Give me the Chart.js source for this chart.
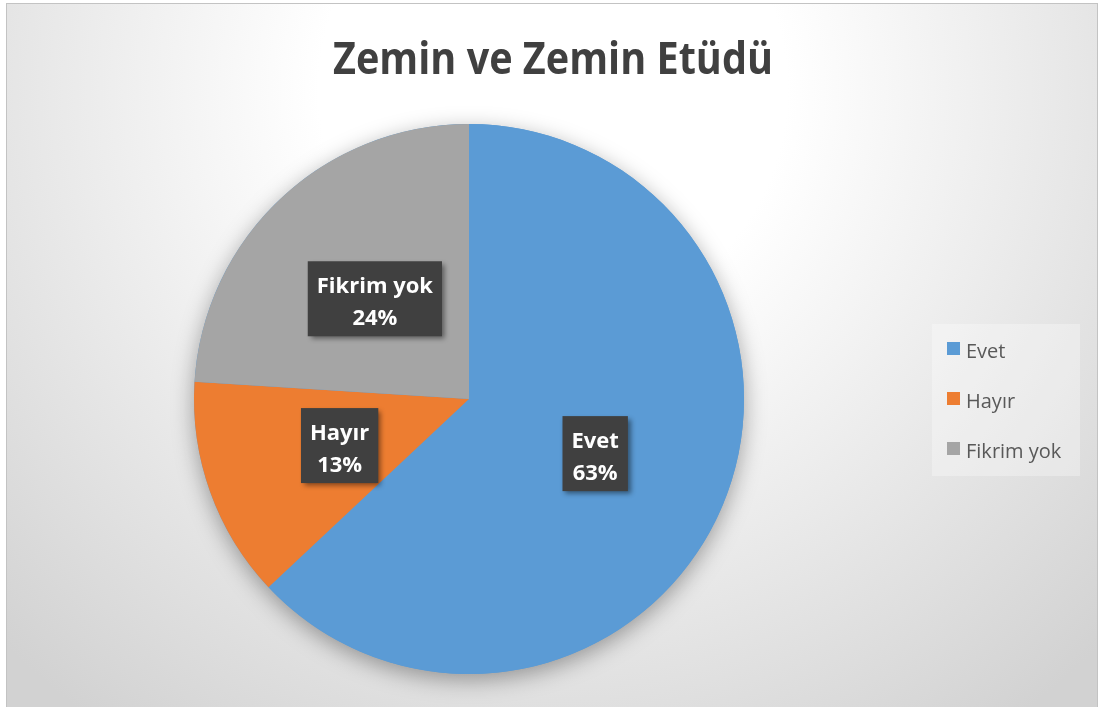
<!DOCTYPE html>
<html>
<head>
<meta charset="utf-8">
<script src="https://cdn.jsdelivr.net/npm/chart.js@4"></script>
<style>
  html, body { margin: 0; padding: 0; background: #fff; }
  #wrap { width: 1103px; height: 707px; }
</style>
</head>
<body>
<div id="wrap"><canvas id="myChart" width="1103" height="707"></canvas></div>
<script>
const title = 'Zemin ve Zemin Etüdü';
const categories = ['Evet', 'Hayır', 'Fikrim yok'];
const percents = [63, 13, 24];
const colors = ['#5B9BD5', '#ED7D31', '#A5A5A5'];

// background, frame and pie shadow
const backdrop = {
  id: 'backdrop',
  beforeDraw(chart) {
    const c = chart.ctx;
    c.save();
    c.fillStyle = '#fff';
    c.fillRect(0, 0, chart.width, chart.height);
    const g = c.createRadialGradient(553, 90, 0, 553, 90, 780);
    g.addColorStop(0, '#ffffff');
    g.addColorStop(0.3, '#ffffff');
    g.addColorStop(1, '#d2d2d2');
    c.fillStyle = g;
    c.fillRect(7, 4, 1090, 710);
    c.strokeStyle = '#c3c3c3';
    c.lineWidth = 1;
    c.strokeRect(6.5, 3.5, 1091, 720);

    c.fillStyle = '#404040';
    c.font = 'bold 45px "Open Sans"';
    c.textAlign = 'center';
    c.textBaseline = 'alphabetic';
    c.fillText(title, 553, 74, 440);
    c.restore();
  },
  beforeDatasetsDraw(chart) {
    const arc = chart.getDatasetMeta(0).data[0];
    const c = chart.ctx;
    c.save();
    c.shadowColor = 'rgba(0,0,0,0.35)';
    c.shadowBlur = 22;
    c.shadowOffsetY = 6;
    c.fillStyle = '#5B9BD5';
    c.beginPath();
    c.arc(arc.x, arc.y, arc.outerRadius, 0, Math.PI * 2);
    c.fill();
    c.restore();
  },
  afterDraw(chart) {
    const c = chart.ctx;
    const meta = chart.getDatasetMeta(0);
    c.save();
    // data labels
    meta.data.forEach((el, i) => {
      const p = el.getCenterPoint();
      c.font = 'bold 22px "Open Sans"';
      const l1 = categories[i], l2 = percents[i] + '%';
      const w = Math.max(c.measureText(l1).width, c.measureText(l2).width) + 18;
      const h = 75;
      c.save();
      c.shadowColor = 'rgba(0,0,0,0.45)';
      c.shadowBlur = 5;
      c.shadowOffsetX = 3;
      c.shadowOffsetY = 3;
      c.fillStyle = '#404040';
      c.fillRect(p.x - w / 2, p.y - h / 2, w, h);
      c.restore();
      c.fillStyle = '#ffffff';
      c.textAlign = 'center';
      c.textBaseline = 'alphabetic';
      c.fillText(l1, p.x, p.y - 6);
      c.fillText(l2, p.x, p.y + 26);
    });
    // legend
    c.fillStyle = 'rgba(255,255,255,0.3)';
    c.fillRect(932, 324, 148, 152);
    c.font = '20px "Open Sans"';
    c.textAlign = 'left';
    categories.forEach((name, i) => {
      const y = 342 + i * 50;
      c.fillStyle = colors[i];
      c.fillRect(947, y, 13, 13);
      c.fillStyle = '#595959';
      c.fillText(name, 966, y + 16);
    });
    c.restore();
  }
};

const ctx = document.getElementById('myChart');

new Chart(ctx, {
  type: 'pie',
  data: {
    labels: categories,
    datasets: [{
      data: percents,
      backgroundColor: colors,
      borderWidth: 0,
      hoverOffset: 0
    }]
  },
  options: {
    responsive: false,
    animation: false,
    events: [],
    layout: { padding: { left: 194, top: 124, right: 359, bottom: 33 } },
    plugins: {
      legend: { display: false },
      tooltip: { enabled: false },
      title: { display: false }
    }
  },
  plugins: [backdrop]
});
</script>
</body>
</html>
